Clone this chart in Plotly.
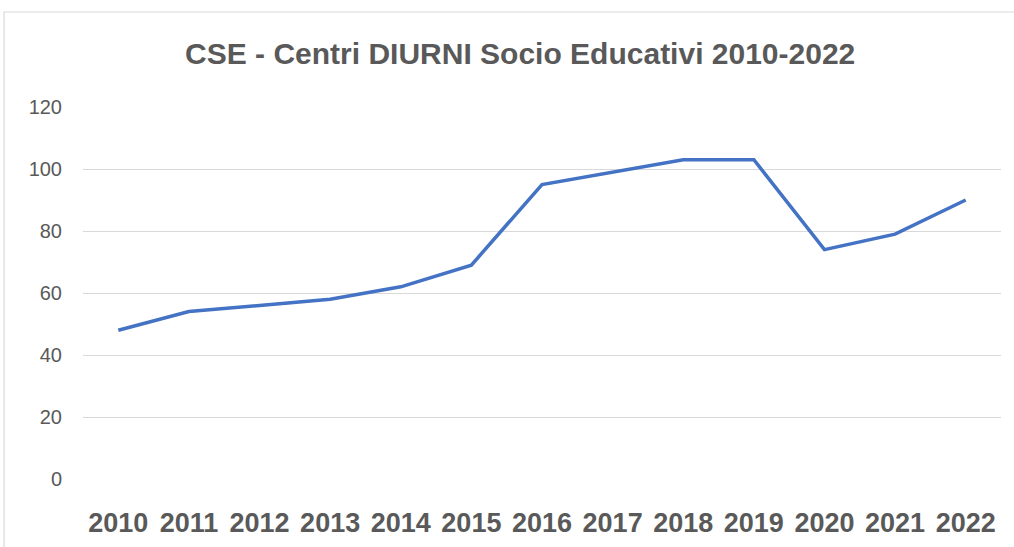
import plotly.graph_objects as go

# Dati: utenti CSE per anno
anni = ["2010", "2011", "2012", "2013", "2014", "2015", "2016",
        "2017", "2018", "2019", "2020", "2021", "2022"]
valori = [48, 54, 56, 58, 62, 69, 95, 99, 103, 103, 74, 79, 90]
tick_y = [0, 20, 40, 60, 80, 100, 120]

GRIGIO = "#595959"

fig = go.Figure(go.Scatter(
    x=anni,
    y=valori,
    mode="lines",
    line=dict(color="#4472C4", width=3.5),
    hoverinfo="x+y",
))

# cornice esterna del grafico (stile Excel)
fig.add_shape(type="rect", xref="paper", yref="paper",
              x0=-0.086, x1=1.2, y0=-0.5, y1=1.2554,
              line=dict(color="#D9D9D9", width=1.2), fillcolor="rgba(0,0,0,0)",
              layer="below")

fig.update_layout(
    title=dict(text="<b>CSE - Centri DIURNI Socio Educativi 2010-2022</b>",
               x=0.513, xanchor="center", y=0.903, yanchor="middle",
               font=dict(family="Liberation Sans, Arial", size=30, color=GRIGIO)),
    width=1014, height=547,
    margin=dict(l=83, r=13, t=107, b=68),
    plot_bgcolor="white",
    paper_bgcolor="white",
    showlegend=False,
    xaxis=dict(
        type="category",
        range=[-0.5, len(anni) - 0.5],
        showgrid=False,
        zeroline=False,
        showline=False,
        ticks="",
        automargin=False,
        ticklabelstandoff=25,
        tickfont=dict(family="Liberation Sans, Arial", size=27, color=GRIGIO,
                      weight="bold"),
    ),
    yaxis=dict(
        range=[0, 120],
        tickvals=tick_y,
        showgrid=True,
        gridcolor="#D9D9D9",
        gridwidth=1.3,
        zeroline=False,
        showline=False,
        ticks="",
        automargin=False,
        ticklabelstandoff=20,
        tickfont=dict(family="Liberation Sans, Arial", size=20, color=GRIGIO),
    ),
)

# niente margine della pagina: il grafico parte da (0, 0)
fig.write_html("out.html", config={"displayModeBar": False},
               post_script="document.body.style.margin='0';")
